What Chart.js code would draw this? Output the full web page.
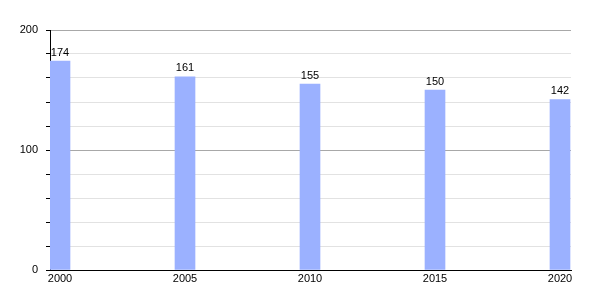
<!DOCTYPE html>
<html>
<head>
<meta charset="utf-8">
<script src="https://cdn.jsdelivr.net/npm/chart.js@4/dist/chart.umd.min.js"></script>
<style>
  html, body { margin: 0; padding: 0; background: #fff; }
  #wrap { width: 600px; height: 300px; }
</style>
</head>
<body>
<div id="wrap"><canvas id="chart1"></canvas></div>
<script>
// data
var years = [2000, 2005, 2010, 2015, 2020];
var values = [174, 161, 155, 150, 142];
var yLabels = [0, 100, 200];

// value labels above bars
var valueLabels = {
    id: 'valueLabels',
    afterDatasetsDraw: function(chart) {
        var ctx = chart.ctx;
        var meta = chart.getDatasetMeta(0);
        ctx.save();
        ctx.font = '11px "Liberation Sans", Arial, sans-serif';
        ctx.fillStyle = '#000';
        ctx.textAlign = 'center';
        ctx.textBaseline = 'bottom';
        meta.data.forEach(function(bar, i) {
            ctx.fillText(values[i], bar.x, bar.y - 3);
        });
        ctx.restore();
    }
};

var ctx = document.getElementById('chart1').getContext('2d');

var myChart = new Chart(ctx, {
    type: 'bar',
    data: {
        datasets: [{
            data: years.map(function(y, i) { return { x: y, y: values[i] }; }),
            backgroundColor: '#9bb1ff',
            borderWidth: 0,
            barThickness: 20
        }]
    },
    options: {
        responsive: true,
        maintainAspectRatio: false,
        animation: false,
        layout: { padding: { top: 30, right: 29, left: 0, bottom: 0 } },
        plugins: {
            legend: { display: false },
            tooltip: { enabled: false }
        },
        scales: {
            x: {
                type: 'linear',
                offset: false,
                min: 1999.6,
                max: 2020.44,
                afterBuildTicks: function(scale) {
                    scale.ticks = years.map(function(v) { return { value: v }; });
                },
                afterFit: function(scale) { scale.height = 30; },
                grid: { display: false, drawTicks: false },
                border: { color: '#000', width: 1 },
                ticks: {
                    color: '#000',
                    padding: 2,
                    maxRotation: 0,
                    autoSkip: false,
                    font: { family: '"Liberation Sans", Arial, sans-serif', size: 11 },
                    callback: function(v) { return String(v); }
                }
            },
            y: {
                min: 0,
                max: 200,
                afterFit: function(scale) { scale.width = 50; },
                grid: {
                    color: function(c) {
                        if (c.tick.value === 0) return 'rgba(0,0,0,0)';
                        return yLabels.indexOf(c.tick.value) >= 0 ? '#a8a8a8' : '#e2e2e2';
                    },
                    tickColor: '#000',
                    tickLength: 4
                },
                border: { color: '#000', width: 1 },
                ticks: {
                    stepSize: 20,
                    color: '#000',
                    padding: 8,
                    font: { family: '"Liberation Sans", Arial, sans-serif', size: 11 },
                    callback: function(v) {
                        return yLabels.indexOf(v) >= 0 ? String(v) : '';
                    }
                }
            }
        }
    },
    plugins: [valueLabels]
});
</script>
</body>
</html>
